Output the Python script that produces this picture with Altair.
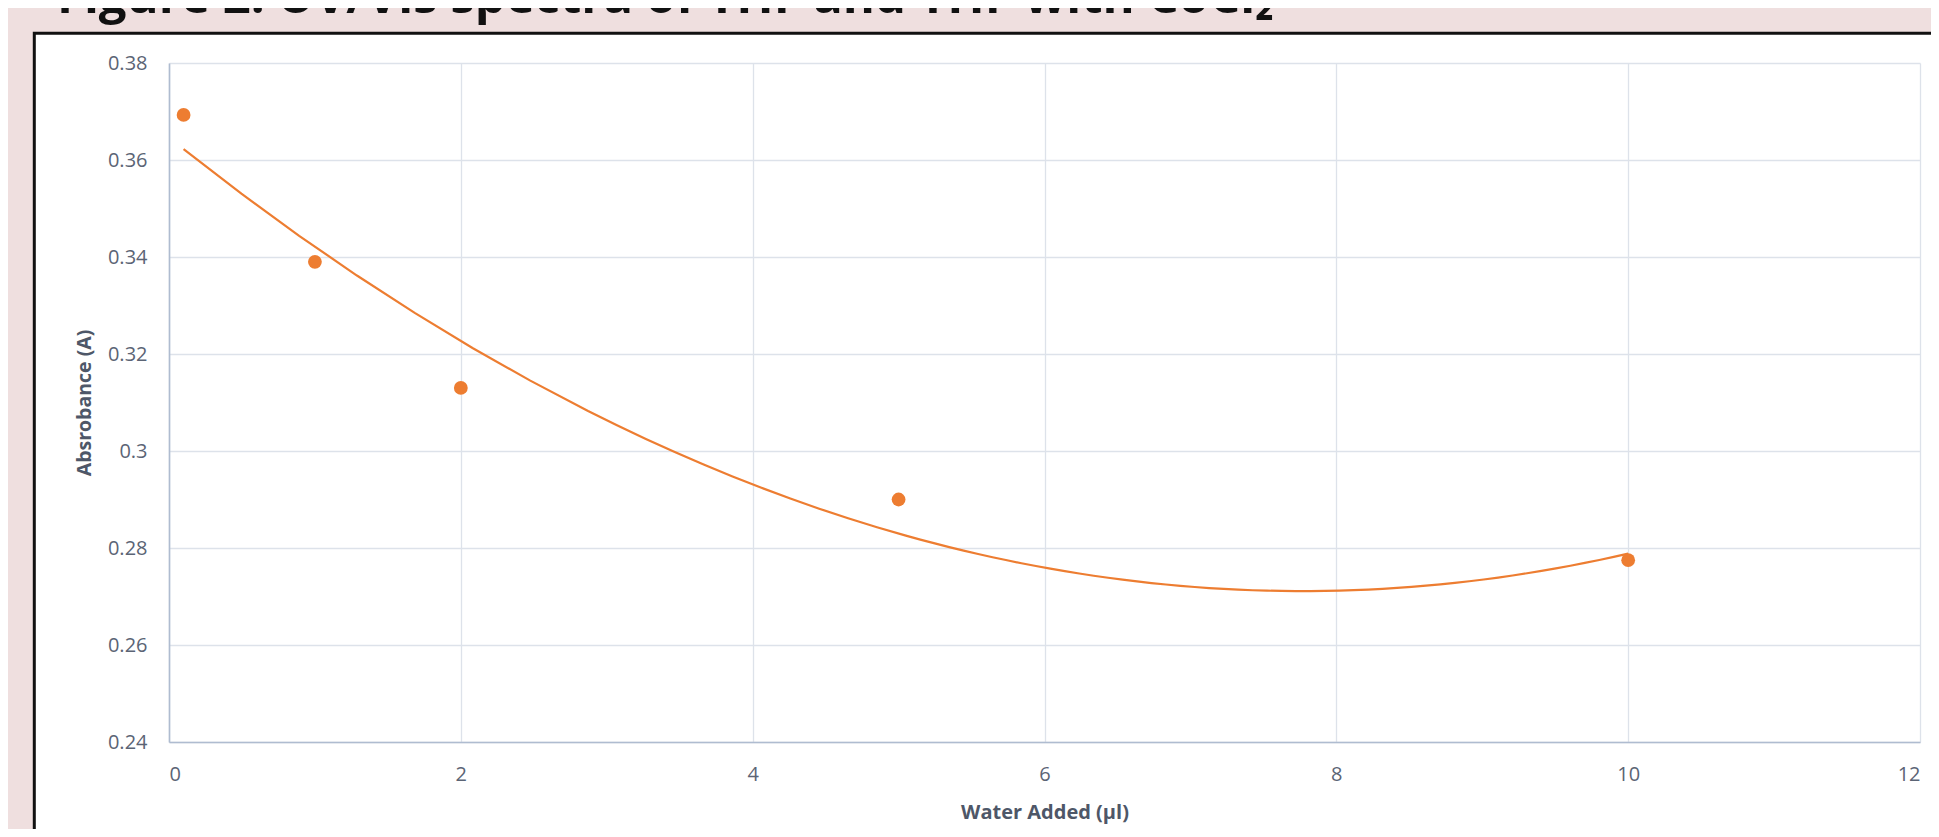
import altair as alt
import pandas as pd

# ---- data ----
water_added = [0.1, 1, 2, 5, 10]
absorbance = [0.3693, 0.339, 0.313, 0.290, 0.2775]
x_ticks = [0, 2, 4, 6, 8, 10, 12]
y_ticks = [0.24, 0.26, 0.28, 0.30, 0.32, 0.34, 0.36, 0.38]
title_text = ["Figure 2: UV/Vis spectra of THF and THF with CoCl₂"]

W, H = 1751, 679
PAD = {"left": 161, "top": 55, "right": 11, "bottom": 87}

PINK = "#EFDFDF"
ORANGE = "#ED7D31"
LABEL = "#5B6475"

df = pd.DataFrame({"water": water_added, "abs": absorbance})
one = pd.DataFrame({"k": [0]})
tdf = pd.DataFrame({"t": title_text})

x_axis = alt.Axis(
    values=x_ticks, title="Water Added (µl)", grid=True, ticks=False,
    gridColor="#DDE2EA", gridWidth=1.3, domainColor="#AFBCD0", domainWidth=1.6,
    labelFont="Open Sans", labelFontSize=20, labelColor=LABEL, labelPadding=22,
    titleFont="Open Sans", titleFontSize=20, titleFontWeight="bold", titleColor="#4E5768",
    titleX=W / 2, titleY=70, titleBaseline="middle",
)
y_axis = alt.Axis(
    values=y_ticks, format=".2~f", title="Absrobance (A)", grid=True, ticks=False,
    gridColor="#DDE2EA", gridWidth=1.3, domainColor="#AFBCD0", domainWidth=1.6,
    labelFont="Open Sans", labelFontSize=20, labelColor=LABEL, labelPadding=22,
    titleFont="Open Sans", titleFontSize=19.5, titleFontWeight="bold", titleColor="#4E5768",
    titleX=-85, titleY=H / 2, titleBaseline="middle", titleAngle=270, titleAlign="center",
)

x_enc = alt.X("water:Q", scale=alt.Scale(domain=[0, 12], nice=False, zero=False), axis=x_axis)
y_enc = alt.Y("abs:Q", scale=alt.Scale(domain=[0.24, 0.38], nice=False, zero=False), axis=y_axis)

# decorative page elements (pink margins and black-bordered white box)
pink_top = alt.Chart(one).mark_rect(color=PINK).encode(
    x=alt.value(-PAD["left"]), x2=alt.value(W + PAD["right"]),
    y=alt.value(-PAD["top"]), y2=alt.value(-29.7))
pink_left = alt.Chart(one).mark_rect(color=PINK).encode(
    x=alt.value(-PAD["left"]), x2=alt.value(-134.7),
    y=alt.value(-PAD["top"]), y2=alt.value(H + PAD["bottom"]))
frame = alt.Chart(one).mark_rect(fill="transparent", stroke="#111111", strokeWidth=3).encode(
    x=alt.value(-134.7), x2=alt.value(W + 80),
    y=alt.value(-29.7), y2=alt.value(H + 200))
title = alt.Chart(tdf).mark_text(
    align="left", baseline="alphabetic", font="Open Sans", fontSize=49,
    fontWeight="bold", color="#111111").encode(
    x=alt.value(-112), y=alt.value(-50.3), text="t:N")

trend = alt.Chart(df).transform_regression(
    "water", "abs", method="poly", order=2
).mark_line(color=ORANGE, strokeWidth=2.2).encode(x=x_enc, y=y_enc)

points = alt.Chart(df).mark_circle(size=190, color=ORANGE, opacity=1).encode(x=x_enc, y=y_enc)

chart = alt.layer(pink_top, pink_left, frame, title, trend, points).properties(
    width=W, height=H, padding=PAD,
    autosize=alt.AutoSizeParams(type="none"),
    background="white",
).configure_view(strokeWidth=0)

chart.save("out.html", embed_options={"renderer": "svg", "actions": False})
